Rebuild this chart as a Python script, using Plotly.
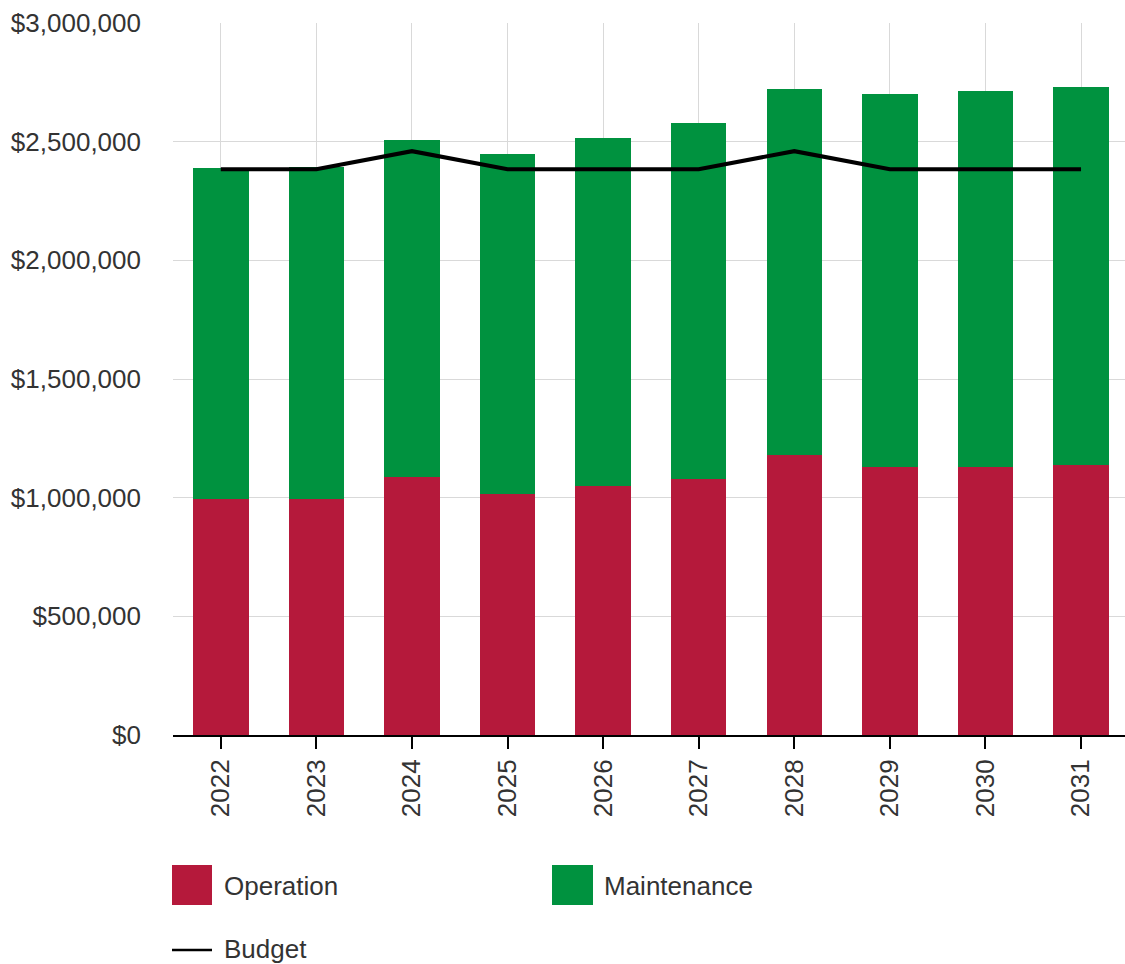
import plotly.graph_objects as go

# Annual cost breakdown against the budget line
years = ["2022", "2023", "2024", "2025", "2026", "2027", "2028", "2029", "2030", "2031"]
operation = [996000, 996000, 1086000, 1015000, 1049000, 1077000, 1178000, 1128000, 1128000, 1136000]
total = [2388000, 2392000, 2507000, 2448000, 2515000, 2579000, 2722000, 2702000, 2712000, 2732000]
maintenance = [t - o for t, o in zip(total, operation)]
budget = [2384000, 2384000, 2460000, 2384000, 2384000, 2384000, 2460000, 2384000, 2384000, 2384000]
y_ticks = [0, 500000, 1000000, 1500000, 2000000, 2500000, 3000000]

RED = "#B5193B"
GREEN = "#00923F"
TEXT = "#333333"
FONT = "Liberation Sans, Arial, sans-serif"

W, H = 1125, 964
ML, MT, MB, MR = 173, 23, 229, 0
PW, PH = W - ML - MR, H - MT - MB


def px(x):
    return (x - ML) / PW


def py(y):
    return (H - MB - y) / PH


fig = go.Figure()
fig.add_trace(go.Bar(x=years, y=operation, name="Operation", marker_color=RED,
                     marker_line_width=0, showlegend=False))
fig.add_trace(go.Bar(x=years, y=maintenance, name="Maintenance", marker_color=GREEN,
                     marker_line_width=0, showlegend=False))
fig.add_trace(go.Scatter(x=years, y=budget, name="Budget", mode="lines",
                         line=dict(color="#000000", width=4), showlegend=False))

# Hand-drawn legend below the plot
shapes = [
    dict(type="rect", xref="paper", yref="paper", x0=px(172), x1=px(212), y0=py(905), y1=py(865),
         fillcolor=RED, line_width=0),
    dict(type="rect", xref="paper", yref="paper", x0=px(552), x1=px(593), y0=py(905), y1=py(865),
         fillcolor=GREEN, line_width=0),
    dict(type="line", xref="paper", yref="paper", x0=px(172), x1=px(212), y0=py(950), y1=py(950),
         line=dict(color="#000000", width=2.5)),
]
legend_items = [("Operation", 222, 886), ("Maintenance", 602, 886), ("Budget", 222, 949)]
annotations = [
    dict(text=t, xref="paper", yref="paper", x=px(x), y=py(y), xanchor="left", yanchor="middle",
         showarrow=False, font=dict(size=26, color=TEXT, family=FONT))
    for t, x, y in legend_items
]

fig.update_layout(
    width=W, height=H,
    margin=dict(l=ML, r=MR, t=MT, b=MB, pad=0),
    barmode="stack", bargap=0.42,
    plot_bgcolor="#FFFFFF", paper_bgcolor="#FFFFFF",
    font=dict(family=FONT, size=26, color=TEXT),
    shapes=shapes, annotations=annotations,
)
fig.update_xaxes(
    type="category", range=[-0.5, 9.46],
    showgrid=True, gridcolor="#D9D9D9", gridwidth=1,
    showline=True, linecolor="#000000", linewidth=2,
    ticks="outside", ticklen=12, tickwidth=2, tickcolor="#000000",
    tickangle=-90, tickfont=dict(size=26, color=TEXT),
)
fig.update_yaxes(
    range=[0, 3000000], tickvals=y_ticks, tickformat="$,.0f",
    showgrid=True, gridcolor="#D9D9D9", gridwidth=1, zeroline=False,
    ticks="", ticklabelstandoff=31, tickfont=dict(size=26, color=TEXT),
)

fig.write_html("out.html")
